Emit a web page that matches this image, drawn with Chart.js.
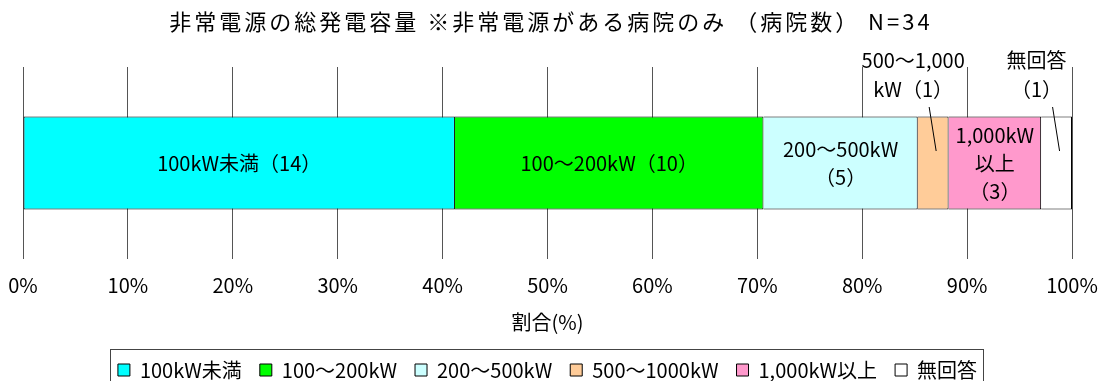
<!DOCTYPE html>
<html lang="ja">
<head>
<meta charset="utf-8">
<title>非常電源の総発電容量</title>
<script src="https://cdn.jsdelivr.net/npm/chart.js@4/dist/chart.umd.min.js"></script>
<style>
  html, body { margin: 0; padding: 0; background: #fff; }
  #wrap { width: 1098px; height: 381px; }
</style>
</head>
<body>
<div id="wrap"><canvas id="myChart" width="1098" height="381"></canvas></div>
<script>
var chartTitle = '非常電源の総発電容量 ※非常電源がある病院のみ （病院数） N=34';
var total = 34;
var categories = ['100kW未満', '100～200kW', '200～500kW', '500～1000kW', '1,000kW以上', '無回答'];
var counts = [14, 10, 5, 1, 3, 1];
// text written on each segment, {n} is replaced by the count
var barLabels = [
  ['100kW未満（{n}）'],
  ['100～200kW（{n}）'],
  ['200～500kW', '（{n}）'],
  ['500～1,000', 'kW（{n}）'],
  ['1,000kW', '以上', '（{n}）'],
  ['無回答', '（{n}）']
];
// thin segments get their label above the bar with a leader line
var labelOutside = [false, false, false, true, false, true];
var colors = ['#00FFFF', '#00FF00', '#CCFFFF', '#FFCC99', '#FF99CC', '#FFFFFF'];

var fontFamily = "'Noto Sans CJK JP', sans-serif";
Chart.defaults.font.family = fontFamily;
Chart.defaults.font.size = 20;
Chart.defaults.color = '#000';

var datasets = categories.map(function(name, i) {
  return {
    label: name,
    data: [counts[i] / total * 100],
    backgroundColor: colors[i],
    borderColor: '#000',
    borderWidth: 1,
    borderSkipped: i === 0 ? false : 'start',
    barPercentage: 0.484,
    categoryPercentage: 1
  };
});

var titlePlugin = {
  id: 'titleText',
  afterDraw: function(chart) {
    var ctx = chart.ctx;
    ctx.save();
    ctx.font = '22px ' + fontFamily;
    ctx.letterSpacing = '3px';
    ctx.fillStyle = '#000';
    ctx.textAlign = 'center';
    ctx.textBaseline = 'middle';
    ctx.fillText(chartTitle, chart.width / 2 + 2, 22);
    ctx.restore();
  }
};

var segmentLabels = {
  id: 'segmentLabels',
  afterDatasetsDraw: function(chart) {
    var ctx = chart.ctx;
    var area = chart.chartArea;
    ctx.save();
    ctx.font = '20px ' + fontFamily;
    ctx.fillStyle = '#000';
    ctx.strokeStyle = '#000';
    ctx.lineWidth = 1;
    ctx.textAlign = 'center';
    ctx.textBaseline = 'middle';
    chart.data.datasets.forEach(function(ds, i) {
      var bar = chart.getDatasetMeta(i).data[0];
      var cx = (bar.x + bar.base) / 2;
      var lines = barLabels[i].map(function(s) { return s.replace('{n}', counts[i]); });
      if (!labelOutside[i]) {
        var y0 = bar.y - (lines.length - 1) * 14;
        lines.forEach(function(s, k) { ctx.fillText(s, cx, y0 + k * 28); });
      } else {
        var lx = cx - 20;
        lines.forEach(function(s, k) { ctx.fillText(s, lx, area.top - 7 + k * 29); });
        ctx.beginPath();
        ctx.moveTo(cx - 4, area.top + 40);
        ctx.lineTo(cx + 3, bar.y - 12);
        ctx.stroke();
      }
    });
    ctx.restore();
  }
};

// frame round the legend row, open at the bottom edge of the canvas
var legendFrame = {
  id: 'legendFrame',
  afterDraw: function(chart) {
    var boxes = chart.legend.legendHitBoxes;
    var left = Math.min.apply(null, boxes.map(function(b) { return b.left; }));
    var right = Math.max.apply(null, boxes.map(function(b) { return b.left + b.width; }));
    var top = boxes[0].top - 11;
    var ctx = chart.ctx;
    ctx.save();
    ctx.strokeStyle = '#444';
    ctx.lineWidth = 1;
    ctx.strokeRect(Math.round(left - 8) + 0.5, Math.round(top) + 0.5, Math.round(right - left + 14), 60);
    ctx.restore();
  }
};

var ctx = document.getElementById('myChart').getContext('2d');
var myChart = new Chart(ctx, {
  type: 'bar',
  data: {
    labels: ['病院数'],
    datasets: datasets
  },
  options: {
    indexAxis: 'y',
    responsive: false,
    animation: false,
    layout: {
      padding: { top: 67, left: 23, right: 26, bottom: -9 }
    },
    scales: {
      x: {
        stacked: true,
        min: 0,
        max: 100,
        grid: { color: '#555', drawTicks: true, tickLength: 14, tickColor: 'rgba(0,0,0,0)' },
        border: { display: false },
        ticks: {
          stepSize: 10,
          padding: 0,
          maxRotation: 0,
          autoSkip: false,
          callback: function(v) { return v + '%'; }
        },
        title: {
          display: true,
          text: '割合(%)',
          padding: { top: 13, bottom: 8 }
        }
      },
      y: {
        stacked: true,
        display: false
      }
    },
    plugins: {
      legend: {
        position: 'bottom',
        labels: { boxWidth: 12, boxHeight: 12, padding: 18 }
      },
      title: { display: false },
      tooltip: { enabled: false }
    }
  },
  plugins: [segmentLabels, titlePlugin, legendFrame]
});
</script>
</body>
</html>
